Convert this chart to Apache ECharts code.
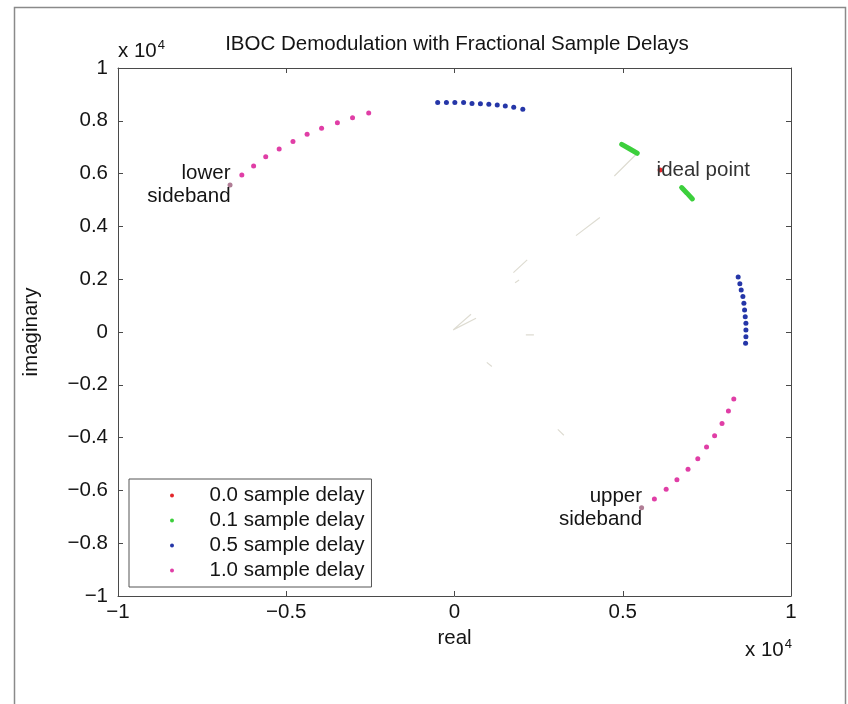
<!DOCTYPE html>
<html>
<head>
<meta charset="utf-8">
<script src="https://cdn.jsdelivr.net/npm/echarts@6/dist/echarts.min.js"></script>
<style>
  html, body { margin: 0; padding: 0; background: #fff; }
  #chart { width: 848px; height: 704px; }
</style>
</head>
<body>
<div id="chart"></div>
<script>
// Constellation values, in units of 10^4 (real, imaginary)

// 0.0 sample delay: the ideal constellation point
const idealPoint = [[0.611, 0.614]];

// 0.1 sample delay: two short dense streaks next to the ideal point
const streakA = [[0.497, 0.711], [0.520, 0.694], [0.543, 0.677]];
const streakB = [[0.675, 0.547], [0.691, 0.526], [0.707, 0.504]];

// 0.5 sample delay: two arcs of points
const halfTopArc = [
  [-0.050, 0.869], [-0.024, 0.869], [0.001, 0.869], [0.027, 0.869],
  [0.052, 0.866], [0.077, 0.865], [0.102, 0.863], [0.127, 0.860],
  [0.151, 0.856], [0.176, 0.851], [0.203, 0.844]
];
const halfRightArc = [
  [0.843, 0.208], [0.848, 0.183], [0.852, 0.159], [0.857, 0.134],
  [0.860, 0.109], [0.862, 0.083], [0.864, 0.058], [0.866, 0.033],
  [0.866, 0.008], [0.866, -0.018], [0.865, -0.043]
];

// 1.0 sample delay: lower and upper sideband arcs (last point is the sideband end)
const lowerSideband = [
  [-0.255, 0.830], [-0.303, 0.812], [-0.348, 0.793], [-0.395, 0.772],
  [-0.438, 0.749], [-0.480, 0.722], [-0.521, 0.693], [-0.561, 0.664],
  [-0.597, 0.629], [-0.632, 0.595], [-0.667, 0.557]
];
const upperSideband = [
  [0.830, -0.254], [0.814, -0.299], [0.795, -0.347], [0.773, -0.393],
  [0.749, -0.436], [0.723, -0.480], [0.694, -0.520], [0.661, -0.560],
  [0.629, -0.596], [0.594, -0.633], [0.556, -0.666]
];

// faint trace segments toward the sideband / ideal directions
const traceSegments = [
  [[-0.004, 0.008], [0.049, 0.067]],
  [[-0.004, 0.008], [0.064, 0.052]],
  [[0.175, 0.225], [0.216, 0.273]],
  [[0.180, 0.187], [0.192, 0.197]],
  [[0.361, 0.365], [0.432, 0.434]],
  [[0.475, 0.591], [0.543, 0.677]],
  [[0.212, -0.011], [0.236, -0.011]],
  [[0.096, -0.115], [0.111, -0.131]],
  [[0.307, -0.369], [0.325, -0.391]]
];

const seriesNames = ['0.0 sample delay', '0.1 sample delay', '0.5 sample delay', '1.0 sample delay'];
const titleText = 'IBOC Demodulation with Fractional Sample Delays';
const xName = 'real';
const yName = 'imaginary';

const FONT = '"Liberation Sans", Arial, Helvetica, sans-serif';
const FS = 20.5;
const INK = '#141414';
const C_RED = '#e3262b', C_GREEN = '#3ccf3c', C_BLUE = '#2536a8', C_PINK = '#e03ea6', C_END = '#b07d95';

const fmt = v => {
  const s = String(Math.round(v * 10) / 10);
  return s.replace('-', '\u2212');
};

function joinWithBreaks(parts) {
  const out = [];
  parts.forEach((p, i) => { if (i) out.push('-'); p.forEach(pt => out.push(pt)); });
  return out;
}

function sidebandData(points, labelText) {
  return points.map((p, i) => {
    if (i !== points.length - 1) return p;
    return {
      value: p,
      itemStyle: { color: C_END },
      label: {
        show: true, formatter: labelText, position: 'left', distance: -3,
        align: 'right', fontSize: FS, lineHeight: 23, color: INK, fontFamily: FONT
      }
    };
  });
}

const chart = echarts.init(document.getElementById('chart'), null, { renderer: 'canvas' });

const axisCommon = {
  min: -1, max: 1,
  axisLine: { show: true, onZero: false, lineStyle: { color: '#4a4a4a', width: 1 } },
  axisTick: { show: true, inside: true, length: 5, lineStyle: { color: '#4a4a4a' } },
  splitLine: { show: false }
};

const supRich = { s: { fontSize: 13, verticalAlign: 'top', padding: [0, 0, 11, 1], fontFamily: FONT, fill: INK } };

chart.setOption({
  animation: false,
  backgroundColor: '#fff',
  textStyle: { fontFamily: FONT },
  grid: { left: 118, top: 68, right: 57, bottom: 108 },
  xAxis: [
    Object.assign({}, axisCommon, {
      type: 'value', position: 'bottom', interval: 0.5,
      name: xName, nameLocation: 'middle', nameGap: 31,
      nameTextStyle: { fontSize: FS, color: INK, fontFamily: FONT },
      axisLabel: { fontSize: FS, color: INK, margin: 6, formatter: fmt, fontFamily: FONT }
    }),
    Object.assign({}, axisCommon, {
      type: 'value', position: 'top', interval: 0.5, axisLabel: { show: false }
    })
  ],
  yAxis: [
    Object.assign({}, axisCommon, {
      type: 'value', position: 'left', interval: 0.2,
      name: yName, nameLocation: 'middle', nameGap: 76, nameRotate: 90,
      nameTextStyle: { fontSize: FS, color: INK, fontFamily: FONT },
      axisLabel: { fontSize: FS, color: INK, margin: 10, formatter: fmt, fontFamily: FONT }
    }),
    Object.assign({}, axisCommon, {
      type: 'value', position: 'right', interval: 0.2, axisLabel: { show: false }
    })
  ],
  legend: {
    data: seriesNames,
    orient: 'vertical',
    left: 129, top: 479,
    icon: 'circle',
    itemWidth: 65, itemHeight: 4, itemGap: 2,
    padding: [5, 7, 5, 41],
    borderColor: '#555', borderWidth: 1, borderRadius: 0,
    backgroundColor: '#fff',
    textStyle: { fontSize: FS, lineHeight: 23, color: INK, fontFamily: FONT }
  },
  series: [
    {
      name: 'trace', type: 'line', silent: true, symbol: 'none',
      data: joinWithBreaks(traceSegments),
      lineStyle: { color: '#dedcd2', width: 1.2 }, z: 1
    },
    {
      name: seriesNames[0], type: 'scatter', symbolSize: 5,
      itemStyle: { color: C_RED, opacity: 1 },
      data: idealPoint.map(p => ({
        value: p,
        label: {
          show: true, formatter: 'ideal point', position: 'right', distance: -6,
          fontSize: FS, color: '#333', fontFamily: FONT
        }
      })),
      z: 3
    },
    {
      name: seriesNames[1], type: 'line', symbol: 'none',
      itemStyle: { color: C_GREEN },
      lineStyle: { color: C_GREEN, width: 5, cap: 'round' },
      data: joinWithBreaks([streakA, streakB]), z: 3
    },
    {
      name: seriesNames[2], type: 'scatter', symbolSize: 5,
      itemStyle: { color: C_BLUE, opacity: 1 },
      data: halfTopArc.concat(halfRightArc), z: 3
    },
    {
      name: seriesNames[3], type: 'scatter', symbolSize: 5,
      itemStyle: { color: C_PINK, opacity: 1 },
      data: sidebandData(lowerSideband, 'lower\nsideband').concat(sidebandData(upperSideband, 'upper\nsideband')),
      z: 3
    }
  ],
  graphic: [
    {
      type: 'rect', silent: true, z: -10,
      shape: { x: 14.5, y: 7.5, width: 831, height: 740 },
      style: { fill: null, stroke: '#8a8a8a', lineWidth: 1.5 }
    },
    {
      type: 'text', x: 457, y: 34, silent: true,
      style: { text: titleText, align: 'center', verticalAlign: 'top', fill: INK, font: FS + 'px ' + FONT }
    },
    {
      type: 'text', left: 118, top: 39, silent: true,
      style: { text: 'x 10{s|4}', fontSize: FS, fill: INK, fontFamily: FONT, rich: supRich }
    },
    {
      type: 'text', left: 745, top: 638, silent: true,
      style: { text: 'x 10{s|4}', fontSize: FS, fill: INK, fontFamily: FONT, rich: supRich }
    }
  ]
});
</script>
</body>
</html>
